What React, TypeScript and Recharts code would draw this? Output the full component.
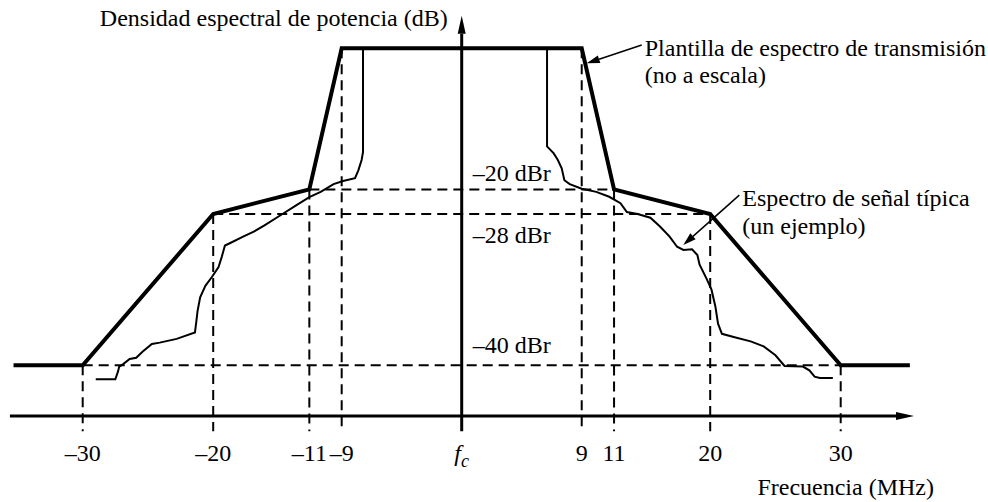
import React from "react";
import { LineChart, Line, XAxis, YAxis, ReferenceLine } from "recharts";

// Frequency offsets (MHz) and levels (dB)
const TICK_MHZ = [-30, -20, -11, -9, 0, 9, 11, 20, 30];
const TICK_LABELS = ["–30", "–20", "–11", "–9", "fc", "9", "11", "20", "30"];

const MASK_MHZ = [-35.3, -30, -20, -11, -9, 9, 11, 20, 30, 35.3];
const MASK_DB = [-40, -40, -28, -20, 0, 0, -20, -28, -40, -40];

const SIGNAL_MHZ = [
  -29.0, -27.5, -27.3, -27.2, -26.9, -26.4, -25.9, -25.4, -24.7, -24.1,
  -22.8, -21.4, -21.3, -21.2, -21.0, -20.6, -20.1, -19.5, -19.2, -18.9,
  -18.4, -17.2, -16.2, -15.2, -13.7, -12.2, -11.0, -10.3, -9.5, -8.9,
  -8.0, -7.75, -7.5, -7.4, -7.4,
  6.4, 6.4, 6.9, 7.2, 7.5, 7.7, 8.1, 9.0, 9.9, 10.7,
  11.6, 12.2, 13.2, 14.4, 15.3, 16.2, 16.9, 17.5, 18.3, 18.8,
  19.0, 19.7, 20.1, 20.4, 20.6, 20.9, 21.8, 23.1, 24.1, 25.0,
  25.7, 27.1, 27.6, 28.0, 28.4, 29.4,
];
const SIGNAL_DB = [
  -41.1, -41.1, -40.5, -40.1, -39.9, -39.5, -39.4, -38.9, -38.3, -38.2,
  -37.9, -37.4, -36.6, -35.7, -34.6, -33.7, -33.0, -32.2, -31.4, -30.5,
  -30.3, -29.8, -29.4, -28.9, -28.1, -25.1, -22.5, -20.8, -19.25, -18.8,
  -18.4, -17.3, -15.8, -14.7, 0,
  0, -13.9, -14.9, -15.8, -17.0, -18.7, -19.25, -19.9, -20.8, -22.4,
  -24.5, -27.35, -28.0, -28.3, -29.0, -29.8, -30.6, -30.85, -30.8, -31.25,
  -32.0, -33.2, -34.0, -35.35, -36.7, -37.5, -37.75, -38.1, -38.5, -39.2,
  -40.05, -40.1, -40.4, -40.9, -41.0, -41.0,
];

const DBR_LEVELS = [-20, -28, -40];
const DBR_HALF_SPAN = [11, 20, 30];
const DBR_LABELS = ["–20 dBr", "–28 dBr", "–40 dBr"];

// annotation arrows: [tail MHz, tail dB, tip MHz, tip dB]
const MASK_NOTE = [13.59, 0.47, 9.31, -2.13];
const MASK_NOTE_TEXT = ["Plantilla de espectro de transmisión", "(no a escala)"];
const SIGNAL_NOTE = [22.23, -21.85, 17.48, -30.46];
const SIGNAL_NOTE_TEXT = ["Espectro de señal típica", "(un ejemplo)"];

// "no a escala": piecewise map from MHz / dB to drawing units
const MHZ_KNOTS = [0, 9, 11, 20, 30];
const MHZ_POS = [0, 9.5, 12.06, 19.67, 30];
const DB_KNOTS = [-40, -28, -20, 0];
const DB_POS = [-40, -20.9, -17.8, 0];

function piecewise(v: number, xs: number[], ys: number[]) {
  let i = 0;
  while (i < xs.length - 2 && v > xs[i + 1]) i++;
  const t = (v - xs[i]) / (xs[i + 1] - xs[i]);
  return ys[i] + t * (ys[i + 1] - ys[i]);
}
const fx = (mhz: number) => Math.sign(mhz) * piecewise(Math.abs(mhz), MHZ_KNOTS, MHZ_POS);
const fy = (db: number) => piecewise(db, DB_KNOTS, DB_POS);

// layout in drawing units
const X_DOMAIN: [number, number] = [-36, 36];
const Y_DOMAIN: [number, number] = [-50, 5];
const AXIS_LEVEL = -46.4;
const AXIS_FROM = -35.76;
const AXIS_TO = 35.8;
const YAXIS_BOTTOM = -48.3;
const YAXIS_TOP = 4.1;
const DBR_DY = [-16, 21, -20];

const FONT = '"Liberation Serif", "Times New Roman", serif';
const FS = 24;

const maskData = MASK_MHZ.map((m, i) => ({ x: fx(m), y: fy(MASK_DB[i]) }));
const signalData = SIGNAL_MHZ.map((m, i) => ({ x: fx(m), y: fy(SIGNAL_DB[i]) }));
const maskAt = (mhz: number) => MASK_DB[MASK_MHZ.indexOf(mhz)];

function arrowHead(x1: number, y1: number, x2: number, y2: number, len: number, half: number) {
  const a = Math.atan2(y2 - y1, x2 - x1);
  const bx = x2 - len * Math.cos(a);
  const by = y2 - len * Math.sin(a);
  const s = Math.sin(a);
  const c = Math.cos(a);
  return {
    bx,
    by,
    points: `${x2},${y2} ${bx - half * s},${by + half * c} ${bx + half * s},${by - half * c}`,
  };
}

const noteShape = (lines: string[], gap: number) => (p: any) => {
  const { x1, y1, x2, y2 } = p;
  const h = arrowHead(x1, y1, x2, y2, 13, 4);
  return (
    <g>
      <line x1={x1} y1={y1} x2={h.bx} y2={h.by} stroke="#000" strokeWidth={1.5} />
      <polygon points={h.points} fill="#000" />
      <text x={x1 + 3} y={y1 + 3} fontSize={FS} fill="#000" dominantBaseline="central">
        {lines[0]}
      </text>
      <text x={x1 + 3} y={y1 + 3 + gap} fontSize={FS} fill="#000" dominantBaseline="central">
        {lines[1]}
      </text>
    </g>
  );
};

const xAxisShape = (p: any) => {
  const { x1, y1, x2, y2 } = p;
  const h = arrowHead(x1, y1, x2, y2, 18, 4);
  return (
    <g>
      <line x1={x1} y1={y1} x2={h.bx} y2={h.by} stroke="#000" strokeWidth={3} />
      <polygon points={h.points} fill="#000" />
      <text x={x2 + 20} y={y1 + 71} textAnchor="end" fontSize={FS} fill="#000" dominantBaseline="central">
        Frecuencia (MHz)
      </text>
    </g>
  );
};

const yAxisShape = (p: any) => {
  const { x1, y1, x2, y2 } = p;
  const h = arrowHead(x1, y1, x2, y2, 18, 4);
  return (
    <g>
      <line x1={x1} y1={y1} x2={h.bx} y2={h.by} stroke="#000" strokeWidth={3} />
      <polygon points={h.points} fill="#000" />
      <text x={x2 - 14} y={y2 + 2} textAnchor="end" fontSize={FS} fill="#000" dominantBaseline="central">
        Densidad espectral de potencia (dB)
      </text>
    </g>
  );
};

const dbrShape = (label: string, dy: number) => (p: any) => {
  const { x1, y1, x2, y2 } = p;
  const cx = (x1 + x2) / 2;
  return (
    <g>
      <line x1={x1} y1={y1} x2={x2} y2={y2} stroke="#000" strokeWidth={2} strokeDasharray="10 6" />
      <text x={cx + 11} y={y1 + dy} fontSize={FS} fill="#000" dominantBaseline="central">
        {label}
      </text>
    </g>
  );
};

function FreqTick(props: any) {
  const { x, y, index } = props;
  const label = TICK_LABELS[index];
  if (label === "fc") {
    return (
      <text x={x} y={y + 16} textAnchor="middle" fontSize={FS} fill="#000" fontStyle="italic">
        <tspan>f</tspan>
        <tspan fontSize={18} dy={6}>c</tspan>
      </text>
    );
  }
  return (
    <text x={x} y={y + 16} textAnchor="middle" fontSize={FS} fill="#000">
      {label}
    </text>
  );
}

export default function App() {
  return (
    <div style={{ position: "absolute", left: 0, top: 0, width: 988, height: 502, background: "#fff" }}>
      <LineChart
        width={988}
        height={502}
        margin={{ top: 8.7, right: 71.5, bottom: 0, left: 6.9 }}
        style={{ fontFamily: FONT }}
      >
        <XAxis
          type="number"
          dataKey="x"
          domain={X_DOMAIN}
          allowDataOverflow
          ticks={TICK_MHZ.map(fx)}
          interval={0}
          height={57.4}
          axisLine={false}
          tickLine={false}
          tickSize={0}
          tickMargin={0}
          tick={<FreqTick />}
        />
        <YAxis type="number" domain={Y_DOMAIN} allowDataOverflow hide />

        {TICK_MHZ.filter((t) => t !== 0).map((t) => (
          <ReferenceLine
            key={`v${t}`}
            segment={[
              { x: fx(t), y: fy(maskAt(t)) },
              { x: fx(t), y: YAXIS_BOTTOM },
            ]}
            stroke="#000"
            strokeWidth={2}
            strokeDasharray="10 6"
          />
        ))}
        {DBR_LEVELS.map((d, i) => (
          <ReferenceLine
            key={`h${d}`}
            segment={[
              { x: fx(-DBR_HALF_SPAN[i]), y: fy(d) },
              { x: fx(DBR_HALF_SPAN[i]), y: fy(d) },
            ]}
            shape={dbrShape(DBR_LABELS[i], DBR_DY[i])}
          />
        ))}

        <ReferenceLine
          segment={[
            { x: AXIS_FROM, y: AXIS_LEVEL },
            { x: AXIS_TO, y: AXIS_LEVEL },
          ]}
          shape={xAxisShape}
        />
        <ReferenceLine
          segment={[
            { x: 0, y: YAXIS_BOTTOM },
            { x: 0, y: YAXIS_TOP },
          ]}
          shape={yAxisShape}
        />

        <Line
          data={signalData}
          dataKey="y"
          type="linear"
          stroke="#000"
          strokeWidth={2}
          dot={false}
          activeDot={false}
          isAnimationActive={false}
        />
        <Line
          data={maskData}
          dataKey="y"
          type="linear"
          stroke="#000"
          strokeWidth={4}
          dot={false}
          activeDot={false}
          isAnimationActive={false}
        />

        <ReferenceLine
          segment={[
            { x: fx(MASK_NOTE[0]), y: fy(MASK_NOTE[1]) },
            { x: fx(MASK_NOTE[2]), y: fy(MASK_NOTE[3]) },
          ]}
          shape={noteShape(MASK_NOTE_TEXT, 27)}
        />
        <ReferenceLine
          segment={[
            { x: fx(SIGNAL_NOTE[0]), y: fy(SIGNAL_NOTE[1]) },
            { x: fx(SIGNAL_NOTE[2]), y: fy(SIGNAL_NOTE[3]) },
          ]}
          shape={noteShape(SIGNAL_NOTE_TEXT, 28)}
        />
      </LineChart>
    </div>
  );
}
